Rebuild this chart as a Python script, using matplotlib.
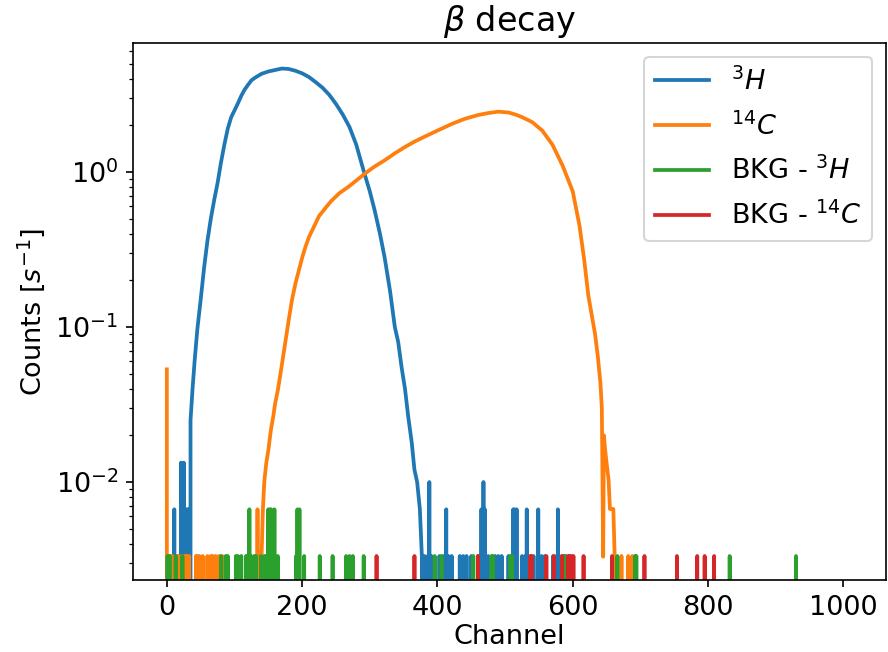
import numpy as np
import matplotlib.pyplot as plt

N_CH = 1024
LIVE_TIME = 300.0  # s, one count = 1/300 s^-1

# smooth part of each spectrum (rate in s^-1)
h3_body_ch = [35, 38, 41, 45, 50, 55, 60, 65, 70, 75, 80, 85, 90, 95, 100, 105, 110, 115,
              120, 125, 130, 140, 150, 160, 170, 180, 190, 200, 210, 220, 230, 240, 250,
              260, 270, 280, 290, 300, 307, 315, 322, 330, 337, 342, 347, 352, 357, 362,
              366, 370, 374, 377]
h3_body_rate = [0.025, 0.04, 0.06, 0.096, 0.15, 0.24, 0.36, 0.5, 0.66, 0.85, 1.15, 1.5, 1.9,
                2.25, 2.5, 2.77, 3.1, 3.4, 3.65, 3.9, 4.05, 4.3, 4.45, 4.55, 4.65, 4.62, 4.5,
                4.33, 4.1, 3.8, 3.5, 3.15, 2.75, 2.35, 1.95, 1.5, 1.05, 0.75, 0.57, 0.4,
                0.28, 0.17, 0.1, 0.08, 0.055, 0.04, 0.026, 0.018, 0.012, 0.01, 0.0067, 0.0033]

c14_body_ch = [140, 142, 144, 147, 150, 154, 157, 160, 164, 168, 172, 176, 180, 185, 190,
               195, 200, 205, 210, 218, 225, 235, 243, 255, 268, 280, 292, 305, 322, 337,
               352, 366, 381, 400, 421, 440, 460, 475, 490, 505, 515, 524, 540, 555, 570,
               585, 600, 610, 617, 623, 628, 633, 637, 641, 643, 645, 646, 648, 650, 653,
               655, 658, 660, 662]
c14_body_rate = [0.0033, 0.0067, 0.01, 0.0133, 0.016, 0.022, 0.026, 0.032, 0.039, 0.05,
                 0.065, 0.085, 0.11, 0.15, 0.19, 0.23, 0.28, 0.33, 0.38, 0.45, 0.52, 0.59,
                 0.65, 0.73, 0.8, 0.88, 0.97, 1.07, 1.19, 1.32, 1.45, 1.57, 1.69, 1.85,
                 2.04, 2.2, 2.33, 2.4, 2.45, 2.42, 2.35, 2.27, 2.1, 1.85, 1.5, 1.1, 0.75,
                 0.45, 0.27, 0.16, 0.12, 0.09, 0.065, 0.043, 0.03, 0.0033, 0.02, 0.016,
                 0.0133, 0.0103, 0.0067, 0.0067, 0.0067, 0.0033]

# isolated channels with only a few counts
h3_few_ch = [2, 11, 16, 21, 23, 25, 27, 29, 31, 33,
             381, 386, 388, 391, 403, 408, 413, 416, 421, 433, 438, 443, 450, 460, 465, 468,
             470, 475, 485, 490, 495, 505, 512, 514, 517, 525, 530, 532, 542, 549, 554, 559,
             571, 576, 578, 584, 590]
h3_few_counts = [1, 2, 1, 4, 3, 4, 2, 2, 2, 2,
                 1, 1, 3, 1, 1, 1, 2, 1, 1, 1, 1, 1, 1, 1, 2, 3,
                 2, 1, 1, 1, 1, 1, 2, 2, 2, 1, 1, 2, 1, 2, 1, 1,
                 1, 1, 2, 1, 1]

c14_few_ch = [0, 4, 6, 8, 16, 21, 25, 28, 30, 33, 43, 45, 48, 53, 60, 65, 68, 72, 77, 82,
              134, 137, 672, 682, 688]
c14_few_counts = [16, 1, 1, 1, 1, 1, 1, 1, 1, 1, 1, 1, 1, 1, 1, 1, 1, 1, 1, 1,
                  2, 1, 1, 1, 1]

bkg_h3_ch = [1, 4, 13, 23, 80, 87, 90, 102, 105, 110, 117, 119, 122, 124, 129, 132, 139,
             144, 147, 150, 152, 154, 157, 159, 164, 191, 193, 196, 203, 226, 245, 265, 270,
             275, 291, 396, 406, 453, 460, 480, 482, 508, 510, 586, 588, 666, 692, 694, 832,
             930]
bkg_h3_counts = [1, 1, 1, 1, 1, 1, 1, 1, 1, 1, 1, 1, 2, 1, 1, 1, 1,
                 1, 1, 2, 2, 2, 1, 2, 1, 1, 2, 2, 1, 1, 1, 1, 1,
                 1, 1, 1, 1, 1, 1, 1, 1, 1, 1, 1, 1, 1, 1, 1, 1,
                 1]

bkg_c14_ch = [310, 366, 460, 537, 539, 561, 572, 584, 593, 595, 598, 601, 616, 658, 706,
              754, 784, 795, 809]
bkg_c14_counts = [1] * len(bkg_c14_ch)


def spectrum(few_ch, few_counts, body_ch=None, body_rate=None):
    ch = np.arange(N_CH)
    rate = np.zeros(N_CH)
    rate[few_ch] = np.array(few_counts) / LIVE_TIME
    if body_ch is None:
        return ch, rate
    keep_lo = ch < body_ch[0]
    keep_hi = ch > body_ch[-1]
    x = np.concatenate([ch[keep_lo], body_ch, ch[keep_hi]])
    y = np.concatenate([rate[keep_lo], body_rate, rate[keep_hi]])
    return x, y


fig = plt.figure(figsize=(5.92, 4.3467), dpi=150)
ax = fig.add_axes([0.1498, 0.1104, 0.8479, 0.8236])

lw = 1.8
ax.plot(*spectrum(h3_few_ch, h3_few_counts, h3_body_ch, h3_body_rate), lw=lw, label=r"$^3H$")
ax.plot(*spectrum(c14_few_ch, c14_few_counts, c14_body_ch, c14_body_rate), lw=lw,
        label=r"$^{14}C$")
ax.plot(*spectrum(bkg_h3_ch, bkg_h3_counts), lw=lw, label=r"BKG - $^3H$")
ax.plot(*spectrum(bkg_c14_ch, bkg_c14_counts), lw=lw, label=r"BKG - $^{14}C$")

ax.set_yscale("log")
ax.set_xlim(-50, 1063)
ax.set_ylim(10 ** -2.632, 10 ** 0.832)
ax.set_xlabel("Channel", fontsize=13, labelpad=1.5)
ax.set_ylabel(r"Counts [$s^{-1}$]", fontsize=13)
ax.set_title(r"$\beta$ decay", fontsize=16)
ax.tick_params(labelsize=13)
ax.legend(loc="upper right", fontsize=13, labelspacing=0.6)

plt.savefig("out.png", dpi=150)
